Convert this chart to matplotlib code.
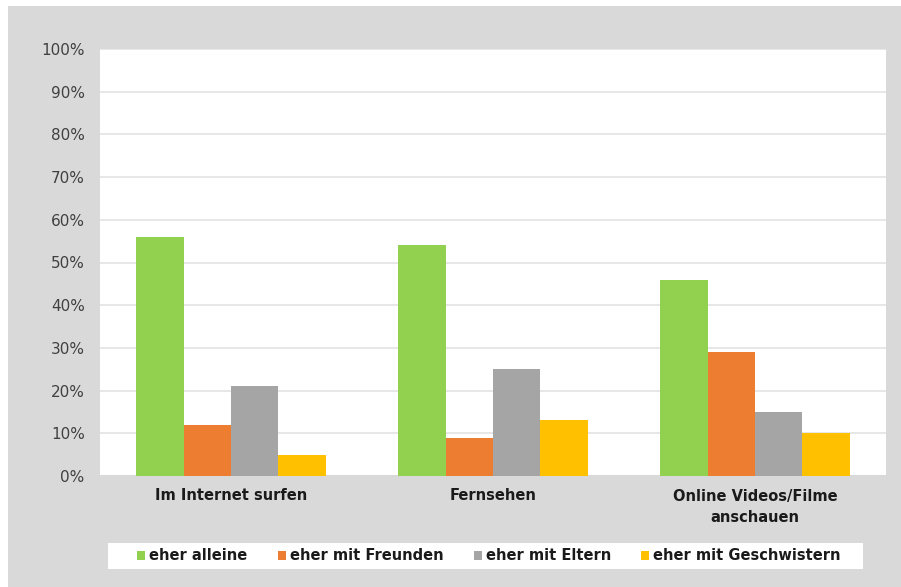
import matplotlib
matplotlib.use("Agg")
import matplotlib.pyplot as plt
import numpy as np
from matplotlib.patches import Rectangle

categories = ["Im Internet surfen", "Fernsehen", "Online Videos/Filme\nanschauen"]
series_names = ["eher alleine", "eher mit Freunden", "eher mit Eltern", "eher mit Geschwistern"]
alleine = [56, 54, 46]
freunden = [12, 9, 29]
eltern = [21, 25, 15]
geschwister = [5, 13, 10]
colors = ["#92d050", "#ed7d31", "#a5a5a5", "#ffc000"]
yticks = list(range(0, 101, 10))

plt.rcParams["font.family"] = ["DejaVu Sans"]

fig = plt.figure(figsize=(9.01, 5.87), dpi=100, facecolor="white")
# grey canvas behind the chart
fig.patches.append(Rectangle((8 / 901, 0), 1, 1 - 6 / 587, transform=fig.transFigure,
                             facecolor="#d9d9d9", edgecolor="none", zorder=-10))
# white legend panel
fig.patches.append(Rectangle((108 / 901, 1 - 569 / 587), 755 / 901, 26 / 587,
                             transform=fig.transFigure, facecolor="white",
                             edgecolor="none", zorder=-5))

ax = fig.add_axes([100 / 901, 1 - 476 / 587, 786 / 901, 427 / 587])
ax.set_facecolor("white")

x = np.arange(len(categories))
width = 0.181
all_series = [alleine, freunden, eltern, geschwister]
for i, (vals, name, c) in enumerate(zip(all_series, series_names, colors)):
    ax.bar(x + (i - 1.5) * width, vals, width, color=c, label=name, zorder=3)

ax.set_xlim(-0.5, len(categories) - 0.5)
ax.set_ylim(0, 100)
ax.set_yticks(yticks)
ax.set_yticklabels([f"{v}%" for v in yticks], fontsize=11, color="#404040")
ax.set_xticks(x)
ax.set_xticklabels(categories, fontsize=10.5, fontweight="bold", color="#1a1a1a",
                   linespacing=1.5)
ax.tick_params(axis="both", length=0)
ax.tick_params(axis="y", pad=11)
ax.tick_params(axis="x", pad=9)
ax.yaxis.grid(True, color="#e3e3e3", linewidth=1.2, zorder=0)
ax.set_axisbelow(True)
for s in ["left", "top", "right"]:
    ax.spines[s].set_visible(False)
ax.spines["bottom"].set_color("#d9d9d9")
ax.spines["bottom"].set_linewidth(1.5)

leg = fig.legend(loc="center", bbox_to_anchor=(489 / 901, 1 - 556 / 587), ncol=4,
                 frameon=False, prop={"size": 10.5, "weight": "bold"},
                 handlelength=0.55, handleheight=0.55, handletextpad=0.25,
                 columnspacing=2.1, borderpad=0, borderaxespad=0)
for t in leg.get_texts():
    t.set_color("#1a1a1a")

fig.savefig("out.png", dpi=100, facecolor=fig.get_facecolor())
